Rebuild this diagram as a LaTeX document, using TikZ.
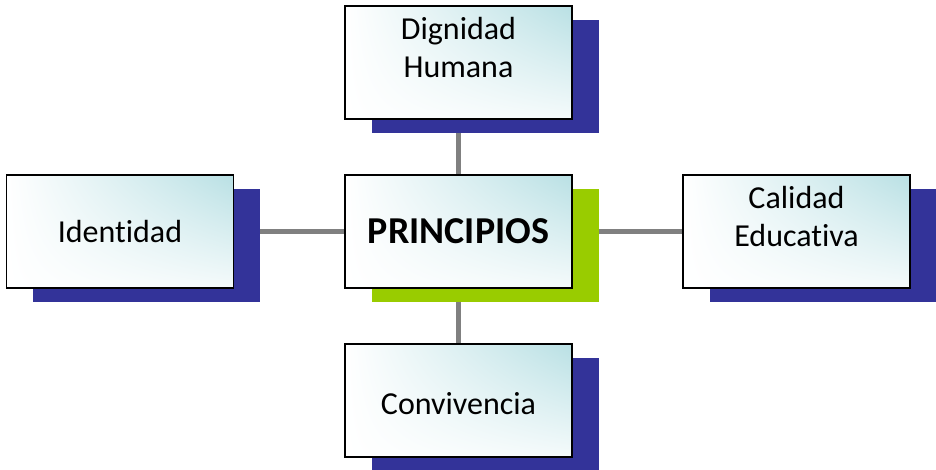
\documentclass[tikz,border=0pt]{standalone}
\usepackage{fontspec}
\setmainfont{Carlito}[Ligatures={NoCommon}]
\usetikzlibrary{shadings}
\pgfdeclarelayer{bg}
\pgfsetlayers{bg,main}
\definecolor{shblue}{HTML}{333399}
\definecolor{shgreen}{HTML}{99CC00}
\definecolor{tealc}{HTML}{B9E0E4}
\definecolor{linegray}{HTML}{808080}
\tikzset{
  boxnode/.style={draw=black, line width=1.3pt, minimum width=227pt, minimum height=113pt, inner sep=0pt,
    upper right=tealc, lower right=tealc!15, upper left=white, lower left=white},
  shadownode/.style={fill=#1, minimum width=227pt, minimum height=113pt, inner sep=0pt, draw=none},
  lbl/.style={align=center, font=\fontsize{32}{38}\selectfont, inner sep=0pt},
  conn/.style={draw=linegray, line width=5pt},
}
\begin{document}
\begin{tikzpicture}[x=1pt,y=1pt]
\useasboundingbox (0,0) rectangle (936,470);
% shadows and boxes
\node[shadownode=shblue] (ts) at (485,393.5) {};
\node[boxnode] (t) at (458.5,407.5) {};
\node[shadownode=shgreen] (cs) at (485,224.5) {};
\node[boxnode] (c) at (458.5,238.5) {};
\node[shadownode=shblue] (ls) at (146.5,224.5) {};
\node[boxnode] (l) at (120,238.5) {};
\node[shadownode=shblue] (rs) at (823,224.5) {};
\node[boxnode] (r) at (796.5,238.5) {};
\node[shadownode=shblue] (bs) at (485,55.5) {};
\node[boxnode] (b) at (458.5,69.5) {};
% labels
\node[lbl] (tl) at ([yshift=15pt]t.center) {Dignidad\\Humana};
\node[lbl, font=\fontsize{38}{38}\bfseries\selectfont] (cl) at (c.center) {PRINCIPIOS};
\node[lbl] (ll) at (l.center) {Identidad};
\node[lbl] (rl) at ([yshift=14.5pt]r.center) {Calidad\\Educativa};
\node[lbl] (bl) at ([yshift=-3pt]b.center) {Convivencia};
% connectors
\begin{pgfonlayer}{bg}
\draw[conn] (t.center) -- (c.center);
\draw[conn] (c.center) -- (b.center);
\draw[conn] (l.center) -- (c.center);
\draw[conn] (c.center) -- (r.center);
\end{pgfonlayer}
\end{tikzpicture}
\end{document}
